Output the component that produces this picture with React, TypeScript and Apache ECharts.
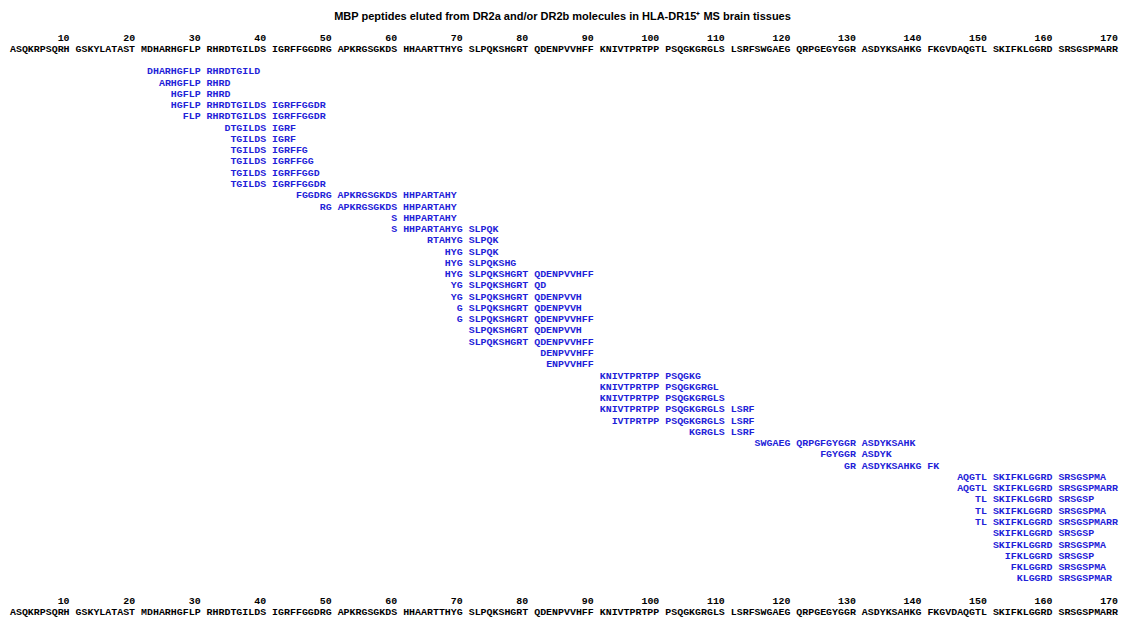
import React, { useEffect, useRef } from "react";
import * as echarts from "echarts";

const TITLE = "MBP peptides eluted from DR2a and/or DR2b molecules in HLA-DR15⁺ MS brain tissues";

// MBP sequence in blocks of ten residues, as printed in the figure
const sequenceBlocks: string[] = [
  "ASQKRPSQRH", "GSKYLATAST", "MDHARHGFLP", "RHRDTGILDS", "IGRFFGGDRG",
  "APKRGSGKDS", "HHAARTTHYG", "SLPQKSHGRT", "QDENPVVHFF", "KNIVTPRTPP",
  "PSQGKGRGLS", "LSRFSWGAEG", "QRPGEGYGGR", "ASDYKSAHKG", "FKGVDAQGTL",
  "SKIFKLGGRD", "SRSGSPMARR",
];

// residue number tick labels
const positionTicks: number[] = [10, 20, 30, 40, 50, 60, 70, 80, 90, 100, 110, 120, 130, 140, 150, 160, 170];

// eluted peptides (as printed, with block spaces) and their first residue number
const peptides: string[] = [
  "DHARHGFLP RHRDTGILD",
  "ARHGFLP RHRD",
  "HGFLP RHRD",
  "HGFLP RHRDTGILDS IGRFFGGDR",
  "FLP RHRDTGILDS IGRFFGGDR",
  "DTGILDS IGRF",
  "TGILDS IGRF",
  "TGILDS IGRFFG",
  "TGILDS IGRFFGG",
  "TGILDS IGRFFGGD",
  "TGILDS IGRFFGGDR",
  "FGGDRG APKRGSGKDS HHPARTAHY",
  "RG APKRGSGKDS HHPARTAHY",
  "S HHPARTAHY",
  "S HHPARTAHYG SLPQK",
  "RTAHYG SLPQK",
  "HYG SLPQK",
  "HYG SLPQKSHG",
  "HYG SLPQKSHGRT QDENPVVHFF",
  "YG SLPQKSHGRT QD",
  "YG SLPQKSHGRT QDENPVVH",
  "G SLPQKSHGRT QDENPVVH",
  "G SLPQKSHGRT QDENPVVHFF",
  "SLPQKSHGRT QDENPVVH",
  "SLPQKSHGRT QDENPVVHFF",
  "DENPVVHFF",
  "ENPVVHFF",
  "KNIVTPRTPP PSQGKG",
  "KNIVTPRTPP PSQGKGRGL",
  "KNIVTPRTPP PSQGKGRGLS",
  "KNIVTPRTPP PSQGKGRGLS LSRF",
  "IVTPRTPP PSQGKGRGLS LSRF",
  "KGRGLS LSRF",
  "SWGAEG QRPGFGYGGR ASDYKSAHK",
  "FGYGGR ASDYK",
  "GR ASDYKSAHKG FK",
  "AQGTL SKIFKLGGRD SRSGSPMA",
  "AQGTL SKIFKLGGRD SRSGSPMARR",
  "TL SKIFKLGGRD SRSGSP",
  "TL SKIFKLGGRD SRSGSPMA",
  "TL SKIFKLGGRD SRSGSPMARR",
  "SKIFKLGGRD SRSGSP",
  "SKIFKLGGRD SRSGSPMA",
  "IFKLGGRD SRSGSP",
  "FKLGGRD SRSGSPMA",
  "KLGGRD SRSGSPMAR",
];
const peptideStarts: number[] = [
  22, 24, 26, 26, 28, 34, 35, 35, 35, 35, 35, 45, 49, 60, 60, 65, 68, 68, 68, 69,
  69, 70, 70, 71, 71, 82, 83, 91, 91, 91, 91, 93, 105, 115, 125, 129, 146, 146, 149, 149,
  149, 151, 151, 153, 154, 155,
];

// residue number -> character cell (a blank cell separates each block of ten)
const cell = (p: number) => p - 1 + Math.floor((p - 1) / 10);

const MONO = "'Liberation Mono', 'Courier New', monospace";
const FS = 9.93;
const BLUE = "#1e22d8";

const ROW_NUM_TOP = -3;
const ROW_SEQ_TOP = -2;
const ROW_NUM_BOTTOM = peptides.length + 1;
const ROW_SEQ_BOTTOM = peptides.length + 2;

function textSeries(
  name: string,
  data: number[][],
  texts: string[],
  color: string,
  align: string
) {
  return {
    type: "custom",
    name,
    clip: false,
    silent: true,
    data,
    renderItem: (params: any, api: any) => {
      const pt = api.coord([api.value(0), api.value(1)]);
      return {
        type: "text",
        x: pt[0],
        y: pt[1],
        style: {
          text: texts[params.dataIndex],
          fill: color,
          font: `bold ${FS}px ${MONO}`,
          fontSize: FS,
          fontFamily: MONO,
          fontWeight: "bold",
          align,
          verticalAlign: "middle",
        },
      };
    },
  };
}

export default function App() {
  const ref = useRef<HTMLDivElement>(null);
  useEffect(() => {
    if (!ref.current) return;
    const chart = echarts.init(ref.current, undefined, { renderer: "svg" });

    const seqData: number[][] = [];
    const seqTexts: string[] = [];
    sequenceBlocks.forEach((b, i) => {
      seqData.push([cell(i * 10 + 1), ROW_SEQ_TOP]);
      seqTexts.push(b);
    });
    sequenceBlocks.forEach((b, i) => {
      seqData.push([cell(i * 10 + 1), ROW_SEQ_BOTTOM]);
      seqTexts.push(b);
    });

    const numData: number[][] = [];
    const numTexts: string[] = [];
    positionTicks.forEach((t) => {
      numData.push([cell(t) + 1, ROW_NUM_TOP]);
      numTexts.push(String(t));
    });
    positionTicks.forEach((t) => {
      numData.push([cell(t) + 1, ROW_NUM_BOTTOM]);
      numTexts.push(String(t));
    });

    const pepData = peptides.map((_, i) => [cell(peptideStarts[i]), i]);

    chart.setOption({
      animation: false,
      backgroundColor: "#ffffff",
      title: {
        text: TITLE,
        left: "center",
        top: 5,
        textStyle: {
          fontFamily: "'Liberation Sans', Arial, sans-serif",
          fontWeight: "bold",
          fontSize: 11,
          color: "#000",
        },
      },
      grid: { left: 10, right: 7, top: 38, bottom: 8.4 },
      xAxis: { type: "value", min: 0, max: cell(170) + 1, show: false },
      yAxis: { type: "value", min: ROW_NUM_TOP, max: ROW_SEQ_BOTTOM, inverse: true, show: false },
      series: [
        textSeries("numbers", numData, numTexts, "#000000", "right"),
        textSeries("sequence", seqData, seqTexts, "#000000", "left"),
        textSeries("peptides", pepData, peptides, BLUE, "left"),
      ],
    });
    return () => chart.dispose();
  }, []);
  return (
    <div
      ref={ref}
      style={{ position: "fixed", left: 0, top: 0, width: 1125, height: 621, background: "#fff" }}
    />
  );
}
